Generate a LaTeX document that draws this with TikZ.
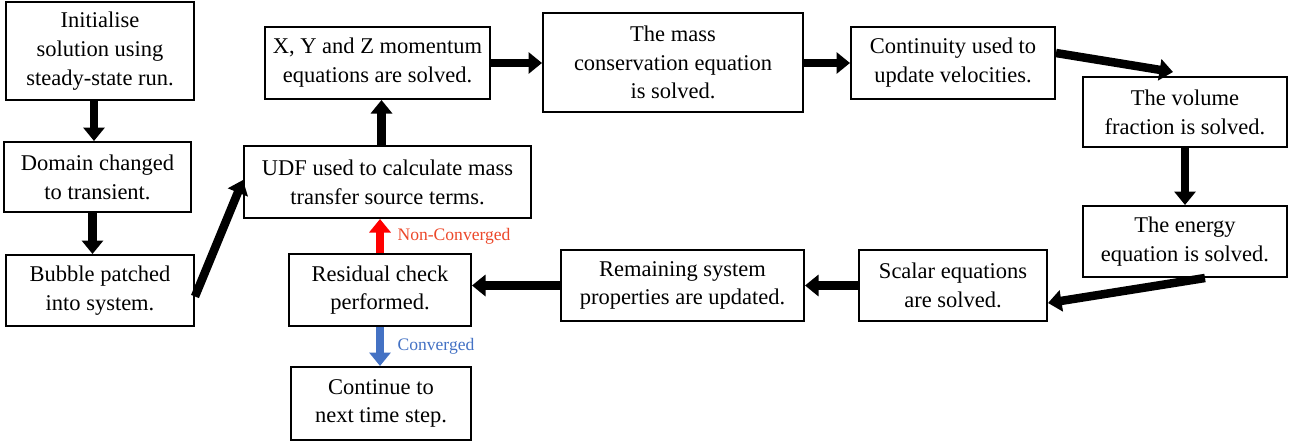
\documentclass[tikz,border=0pt]{standalone}
\usepackage{fontspec}
\setmainfont{Liberation Serif}
\usetikzlibrary{arrows.meta,positioning,calc}
\definecolor{nonconv}{RGB}{236,72,42}
\definecolor{convblue}{RGB}{68,114,196}

\begin{document}
\begin{tikzpicture}[
  box/.style={draw, line width=0.04cm, rectangle, align=center, inner sep=0pt, font=\fontsize{12.8}{16.4}\selectfont},
  arr/.style={line width=0.17cm, -{Triangle[width=0.42cm,length=0.27cm]}},
  lbl/.style={font=\fontsize{10}{12}\selectfont, right=0.15cm},
]
\useasboundingbox (0,0) rectangle (25.92,-8.86);
% left column
\node[box, minimum width=3.76cm, minimum height=1.96cm] (init) at (2.00,-1.02) {Initialise\\solution using\\steady-state run.};
\node[box, minimum width=3.74cm, minimum height=1.40cm] (domain) at (1.95,-3.54) {Domain changed\\to transient.};
\node[box, minimum width=3.76cm, minimum height=1.42cm] (bubble) at (2.00,-5.81) {Bubble patched\\into system.};
% main loop
\node[box, minimum width=5.74cm, minimum height=1.44cm] (udf) at (7.75,-3.64) {UDF used to calculate mass\\transfer source terms.};
\node[box, minimum width=4.50cm, minimum height=1.44cm] (xyz) at (7.55,-1.26) {X, Y and Z momentum\\equations are solved.};
\node[box, minimum width=5.20cm, minimum height=1.98cm] (mass) at (13.46,-1.25) {The mass\\conservation equation\\is solved.};
\node[box, minimum width=4.08cm, minimum height=1.44cm] (cont) at (19.06,-1.26) {Continuity used to\\update velocities.};
\node[box, minimum width=4.08cm, minimum height=1.40cm] (vol) at (23.70,-2.24) {The volume\\fraction is solved.};
\node[box, minimum width=4.08cm, minimum height=1.42cm] (energy) at (23.70,-4.83) {The energy\\equation is solved.};
\node[box, minimum width=3.76cm, minimum height=1.42cm] (scalar) at (19.06,-5.71) {Scalar equations\\are solved.};
\node[box, minimum width=4.86cm, minimum height=1.42cm] (remain) at (13.65,-5.71) {Remaining system\\properties are updated.};
\node[box, minimum width=3.64cm, minimum height=1.44cm] (resid) at (7.60,-5.80) {Residual check\\performed.};
\node[box, minimum width=3.60cm, minimum height=1.46cm] (next) at (7.62,-8.07) {Continue to\\next time step.};

% connectors
\draw[arr] ([xshift=-0.12cm]init.south) -- ([xshift=-0.12cm]init.south |- domain.north);
\draw[arr] ([xshift=-0.1cm]domain.south) -- ([xshift=-0.1cm]domain.south |- bubble.north);
\draw[arr] ([yshift=-0.12cm]bubble.east) -- ([yshift=0.04cm]udf.west);
\draw[arr] ([xshift=0.08cm]xyz.south |- udf.north) -- ([xshift=0.08cm]xyz.south);
\draw[arr] (xyz.east) -- (xyz.east -| mass.west);
\draw[arr] (mass.east |- cont.west) -- (cont.west);
\draw[arr] ([yshift=0.2cm]cont.east) -- ([xshift=-0.24cm,yshift=0.08cm]vol.north);
\draw[arr] (vol.south) -- (energy.north);
\draw[arr] ([xshift=0.4cm]energy.south) -- ([yshift=-0.35cm]scalar.east);
\draw[arr] (scalar.west) -- (remain.east);
\draw[arr] (remain.west) -- (remain.west -| resid.east);
\draw[arr, red] (resid.north) -- (resid.north |- udf.south) node[midway, lbl, text=nonconv] {Non-Converged};
\draw[arr, convblue] (resid.south) -- (resid.south |- next.north) node[midway, lbl, text=convblue] {Converged};
\end{tikzpicture}
\end{document}
